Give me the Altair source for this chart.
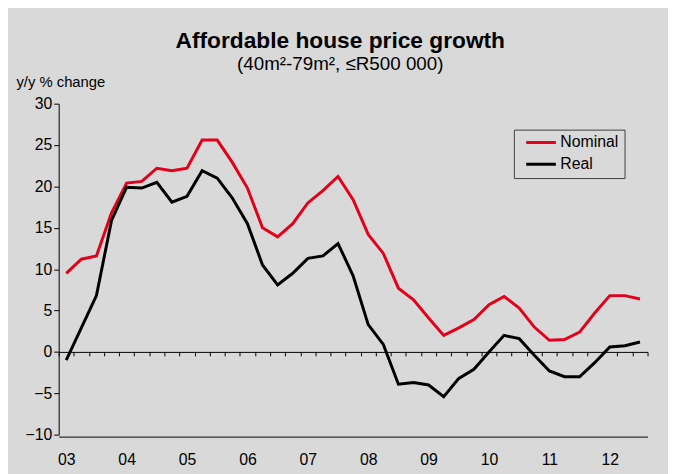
import altair as alt
import pandas as pd

years = ["03", "04", "05", "06", "07", "08", "09", "10", "11", "12"]
quarters = [f"20{y}Q{q}" for y in years for q in range(1, 5)][:39]

nominal = [9.5, 11.2, 11.6, 16.8, 20.4, 20.6, 22.2, 21.9, 22.2, 25.6, 25.6, 22.9,
           19.8, 15.0, 13.9, 15.5, 18.0, 19.5, 21.2, 18.4, 14.2, 11.9, 7.7, 6.3,
           4.1, 2.0, 2.9, 3.9, 5.7, 6.7, 5.3, 3.0, 1.4, 1.5, 2.4, 4.7, 6.8, 6.8, 6.4]
real = [-1.0, 2.9, 6.8, 15.9, 19.9, 19.8, 20.5, 18.1, 18.8, 21.9, 21.0, 18.6,
        15.5, 10.5, 8.1, 9.5, 11.3, 11.6, 13.1, 9.2, 3.3, 0.9, -3.9, -3.7,
        -4.0, -5.4, -3.2, -2.1, 0.0, 2.0, 1.6, -0.4, -2.3, -3.0, -3.0, -1.3, 0.6, 0.75, 1.2]

series_names = ["Nominal", "Real"]
series_colors = ["#e3001b", "#000000"]

rows = []
for i, q in enumerate(quarters):
    rows.append({"i": i, "quarter": q, "series": "Nominal", "value": nominal[i]})
    rows.append({"i": i, "quarter": q, "series": "Real", "value": real[i]})
df = pd.DataFrame(rows)

n = len(quarters)
xscale = alt.Scale(domain=[-0.5, n - 0.5], nice=False, zero=False)
yscale = alt.Scale(domain=[-10, 30], nice=False)

year_values = [k * 4 for k in range(len(years))]
boundaries = [k + 0.5 for k in range(-1, n)]

label_expr = "(datum.value/4+3) < 10 ? '0' + (datum.value/4+3) : '' + (datum.value/4+3)"

lines = alt.Chart(df).mark_line(strokeWidth=3).encode(
    x=alt.X("i:Q", scale=xscale,
            axis=alt.Axis(orient="bottom", values=year_values, labelExpr=label_expr,
                          ticks=False, tickSize=0, domain=True, domainColor="#000000",
                          offset=2, labelPadding=15, labelFontSize=16, labelColor="#000000",
                          grid=False, title=None)),
    y=alt.Y("value:Q", scale=yscale,
            axis=alt.Axis(values=list(range(-10, 31, 5)), tickSize=5, labelPadding=2,
                          labelFontSize=16, labelColor="#000000", domainColor="#000000",
                          tickColor="#000000", grid=False,
                          title="y/y % change", titleAngle=0, titleAlign="left",
                          titleBaseline="alphabetic", titleX=-43.3, titleY=-17,
                          titleFontSize=15, titleFontWeight="normal", titleColor="#000000")),
    color=alt.Color("series:N", scale=alt.Scale(domain=series_names, range=series_colors),
                    legend=alt.Legend(orient="none", legendX=460.7, legendY=26.3, title=None,
                                      labelFontSize=16, labelColor="#000000",
                                      symbolType="stroke", symbolSize=900, symbolStrokeWidth=3,
                                      strokeColor="#404040", fillColor="#d9d9d9",
                                      padding=6, clipHeight=14, rowPadding=6,
                                      symbolOffset=5, labelOffset=3)),
    order="i:Q",
)

zero_axis = alt.Chart(df).mark_line(opacity=0).encode(
    x=alt.X("i:Q", scale=xscale,
            axis=alt.Axis(orient="bottom", values=boundaries, labels=False, tickSize=4,
                          tickColor="#000000", domainColor="#000000", offset=-83.75,
                          grid=False, title=None)),
    y=alt.Y("value:Q", scale=yscale),
    detail="series:N",
)

chart = alt.layer(zero_axis, lines).resolve_axis(x="independent").properties(
    width=596,
    height=335,
    autosize=alt.AutoSizeParams(type="none"),
    padding={"left": 51.3, "top": 94, "right": 20.7, "bottom": 37},
    background="#d9d9d9",
    title=alt.TitleParams(text="Affordable house price growth",
                          subtitle="(40m²-79m², ≤R500 000)",
                          fontSize=23, fontWeight="bold", color="#000000",
                          subtitleFontSize=19, subtitleColor="#000000",
                          subtitlePadding=2, anchor="middle", frame="group",
                          dx=-13, dy=3, offset=4),
).configure(font="Liberation Sans").configure_view(stroke=None)

chart.save("out.html", embed_options={"renderer": "svg", "actions": False})
